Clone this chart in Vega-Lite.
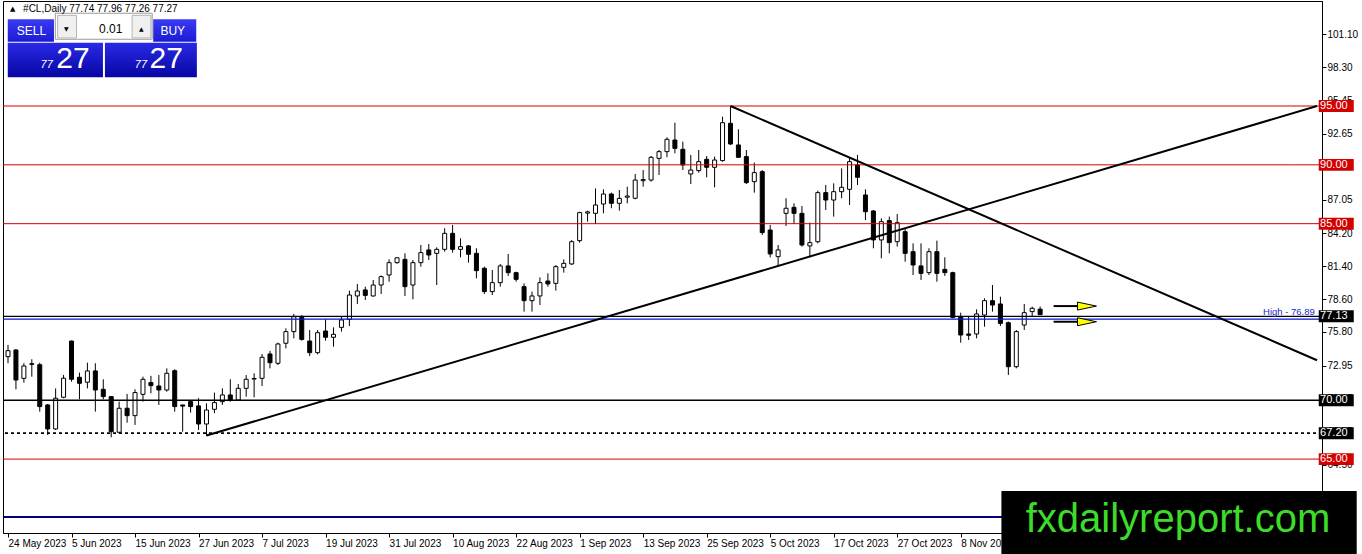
{
  "$schema": "https://vega.github.io/schema/vega-lite/v6.json",
  "width": 1319,
  "height": 532,
  "autosize": {"type": "none"},
  "padding": {"left": 3, "top": 1, "right": 40, "bottom": 21},
  "background": "white",
  "config": {
    "view": {"stroke": "black", "strokeWidth": 1},
    "font": "Liberation Sans",
    "axis": {"labelFont": "Liberation Sans", "labelFontSize": 10, "labelColor": "black", "domainColor": "black", "tickColor": "black", "grid": false}
  },
  "resolve": {"axis": {"x": "independent", "y": "independent"}},
  "datasets": {
    "candles": [
      {"i":0,"o":73.70,"h":74.70,"l":73.14,"c":74.21},
      {"i":1,"o":74.27,"h":74.33,"l":70.93,"c":71.72},
      {"i":2,"o":71.86,"h":73.14,"l":71.49,"c":72.91},
      {"i":3,"o":73.10,"h":73.48,"l":72.00,"c":73.05},
      {"i":4,"o":73.02,"h":73.19,"l":69.03,"c":69.46},
      {"i":5,"o":69.60,"h":69.68,"l":67.05,"c":67.56},
      {"i":6,"o":67.56,"h":71.00,"l":67.47,"c":70.17},
      {"i":7,"o":70.25,"h":72.15,"l":70.17,"c":71.87},
      {"i":8,"o":75.03,"h":75.06,"l":71.58,"c":71.78},
      {"i":9,"o":71.95,"h":72.35,"l":70.08,"c":71.44},
      {"i":10,"o":71.53,"h":73.19,"l":71.00,"c":72.49},
      {"i":11,"o":72.49,"h":73.14,"l":69.03,"c":70.87},
      {"i":12,"o":70.93,"h":71.78,"l":70.08,"c":70.31},
      {"i":13,"o":70.31,"h":70.36,"l":66.85,"c":67.33},
      {"i":14,"o":67.28,"h":69.88,"l":67.19,"c":69.32},
      {"i":15,"o":69.32,"h":70.53,"l":68.09,"c":68.69},
      {"i":16,"o":68.69,"h":70.93,"l":67.90,"c":70.65},
      {"i":17,"o":70.50,"h":72.00,"l":69.88,"c":71.78},
      {"i":18,"o":71.50,"h":72.07,"l":70.59,"c":71.24},
      {"i":19,"o":71.21,"h":72.15,"l":69.60,"c":70.87},
      {"i":20,"o":70.87,"h":72.71,"l":70.73,"c":72.29},
      {"i":21,"o":72.51,"h":72.63,"l":69.03,"c":69.46},
      {"i":22,"o":69.60,"h":69.60,"l":67.33,"c":69.50},
      {"i":23,"o":69.88,"h":69.97,"l":68.95,"c":69.46},
      {"i":24,"o":69.52,"h":70.17,"l":67.47,"c":67.98},
      {"i":25,"o":67.98,"h":69.74,"l":66.96,"c":69.17},
      {"i":26,"o":69.23,"h":70.65,"l":68.90,"c":69.80},
      {"i":27,"o":69.88,"h":71.01,"l":69.60,"c":70.45},
      {"i":28,"o":70.45,"h":71.78,"l":69.88,"c":70.02},
      {"i":29,"o":70.02,"h":71.38,"l":69.96,"c":71.01},
      {"i":30,"o":71.01,"h":72.14,"l":70.30,"c":71.78},
      {"i":31,"o":71.80,"h":72.29,"l":70.25,"c":71.85},
      {"i":32,"o":71.86,"h":73.93,"l":71.21,"c":73.65},
      {"i":33,"o":73.93,"h":74.19,"l":72.71,"c":73.19},
      {"i":34,"o":73.14,"h":74.89,"l":72.99,"c":74.78},
      {"i":35,"o":74.84,"h":76.11,"l":74.41,"c":75.83},
      {"i":36,"o":75.83,"h":77.33,"l":75.26,"c":77.10},
      {"i":37,"o":77.04,"h":77.24,"l":75.06,"c":75.17},
      {"i":38,"o":75.03,"h":75.97,"l":73.76,"c":74.04},
      {"i":39,"o":74.04,"h":75.97,"l":73.90,"c":75.74},
      {"i":40,"o":75.88,"h":76.87,"l":75.06,"c":75.35},
      {"i":41,"o":75.35,"h":76.19,"l":74.55,"c":75.60},
      {"i":42,"o":76.19,"h":77.10,"l":75.83,"c":76.82},
      {"i":43,"o":76.87,"h":79.31,"l":76.31,"c":78.94},
      {"i":44,"o":78.86,"h":79.88,"l":78.18,"c":79.28},
      {"i":45,"o":79.37,"h":79.65,"l":78.52,"c":78.91},
      {"i":46,"o":78.86,"h":80.22,"l":78.80,"c":79.79},
      {"i":47,"o":79.79,"h":80.60,"l":79.03,"c":80.50},
      {"i":48,"o":80.64,"h":81.97,"l":80.07,"c":81.69},
      {"i":49,"o":81.69,"h":82.14,"l":81.60,"c":82.10},
      {"i":50,"o":81.97,"h":82.48,"l":78.86,"c":79.65},
      {"i":51,"o":79.79,"h":81.91,"l":78.57,"c":81.69},
      {"i":52,"o":81.69,"h":83.19,"l":81.35,"c":82.54},
      {"i":53,"o":82.77,"h":83.28,"l":81.92,"c":82.34},
      {"i":54,"o":82.48,"h":82.99,"l":79.79,"c":82.82},
      {"i":55,"o":82.82,"h":84.61,"l":82.62,"c":84.18},
      {"i":56,"o":84.18,"h":84.89,"l":82.54,"c":82.82},
      {"i":57,"o":82.82,"h":83.76,"l":82.14,"c":83.05},
      {"i":58,"o":83.11,"h":83.19,"l":81.69,"c":82.40},
      {"i":59,"o":82.48,"h":82.91,"l":80.36,"c":81.01},
      {"i":60,"o":81.21,"h":81.35,"l":79.03,"c":79.23},
      {"i":61,"o":79.23,"h":81.07,"l":78.94,"c":79.99},
      {"i":62,"o":79.99,"h":81.58,"l":79.65,"c":81.41},
      {"i":63,"o":81.41,"h":82.43,"l":80.56,"c":80.84},
      {"i":64,"o":80.84,"h":80.92,"l":80.07,"c":80.27},
      {"i":65,"o":79.65,"h":79.93,"l":77.53,"c":78.46},
      {"i":66,"o":78.46,"h":79.23,"l":77.53,"c":78.86},
      {"i":67,"o":78.86,"h":80.44,"l":78.09,"c":79.99},
      {"i":68,"o":80.13,"h":80.78,"l":79.65,"c":79.88},
      {"i":69,"o":79.93,"h":81.49,"l":79.31,"c":81.35},
      {"i":70,"o":81.29,"h":81.97,"l":80.84,"c":81.63},
      {"i":71,"o":81.58,"h":83.61,"l":81.49,"c":83.47},
      {"i":72,"o":83.56,"h":86.02,"l":83.39,"c":85.94},
      {"i":73,"o":85.90,"h":86.11,"l":85.17,"c":86.00},
      {"i":74,"o":85.88,"h":88.00,"l":84.97,"c":86.59},
      {"i":75,"o":86.67,"h":87.92,"l":85.88,"c":87.52},
      {"i":76,"o":87.52,"h":87.64,"l":86.31,"c":86.73},
      {"i":77,"o":86.73,"h":87.86,"l":86.11,"c":87.15},
      {"i":78,"o":87.25,"h":88.15,"l":86.73,"c":87.35},
      {"i":79,"o":87.16,"h":89.22,"l":87.07,"c":88.71},
      {"i":80,"o":88.65,"h":89.56,"l":88.15,"c":88.75},
      {"i":81,"o":88.71,"h":90.75,"l":88.57,"c":90.64},
      {"i":82,"o":90.55,"h":91.26,"l":89.14,"c":91.12},
      {"i":83,"o":91.12,"h":92.34,"l":90.64,"c":92.17},
      {"i":84,"o":92.11,"h":93.58,"l":90.98,"c":91.40},
      {"i":85,"o":91.32,"h":91.97,"l":89.56,"c":89.99},
      {"i":86,"o":89.22,"h":90.84,"l":88.37,"c":89.56},
      {"i":87,"o":89.51,"h":91.26,"l":89.34,"c":90.27},
      {"i":88,"o":90.47,"h":90.75,"l":88.94,"c":89.79},
      {"i":89,"o":89.79,"h":90.70,"l":88.09,"c":90.41},
      {"i":90,"o":90.36,"h":94.09,"l":90.27,"c":93.58},
      {"i":91,"o":93.53,"h":95.00,"l":91.69,"c":91.77},
      {"i":92,"o":91.69,"h":93.02,"l":90.60,"c":90.64},
      {"i":93,"o":90.70,"h":91.26,"l":88.37,"c":88.49},
      {"i":94,"o":88.57,"h":90.19,"l":87.64,"c":89.34},
      {"i":95,"o":89.42,"h":89.56,"l":84.04,"c":84.24},
      {"i":96,"o":84.46,"h":84.89,"l":82.14,"c":82.43},
      {"i":97,"o":82.20,"h":83.19,"l":81.41,"c":82.77},
      {"i":98,"o":85.88,"h":87.16,"l":84.81,"c":86.31},
      {"i":99,"o":86.39,"h":86.73,"l":84.98,"c":85.88},
      {"i":100,"o":85.88,"h":86.50,"l":83.05,"c":83.19},
      {"i":101,"o":83.11,"h":85.09,"l":82.20,"c":83.39},
      {"i":102,"o":83.47,"h":87.81,"l":83.33,"c":87.64},
      {"i":103,"o":87.64,"h":88.29,"l":86.16,"c":87.01},
      {"i":104,"o":87.01,"h":88.43,"l":85.60,"c":87.72},
      {"i":105,"o":87.72,"h":89.70,"l":87.16,"c":88.09},
      {"i":106,"o":87.92,"h":90.55,"l":86.59,"c":90.27},
      {"i":107,"o":89.99,"h":90.84,"l":88.29,"c":88.94},
      {"i":108,"o":87.44,"h":87.92,"l":85.31,"c":86.02},
      {"i":109,"o":86.08,"h":86.16,"l":82.91,"c":83.62},
      {"i":110,"o":83.62,"h":85.46,"l":82.06,"c":85.17},
      {"i":111,"o":85.26,"h":85.60,"l":82.48,"c":83.39},
      {"i":112,"o":83.47,"h":85.82,"l":83.05,"c":85.09},
      {"i":113,"o":84.32,"h":84.61,"l":81.77,"c":82.48},
      {"i":114,"o":82.62,"h":83.33,"l":80.64,"c":81.49},
      {"i":115,"o":81.41,"h":83.33,"l":80.22,"c":80.78},
      {"i":116,"o":80.84,"h":82.91,"l":80.64,"c":82.62},
      {"i":117,"o":82.62,"h":83.56,"l":80.07,"c":80.78},
      {"i":118,"o":81.12,"h":82.14,"l":80.56,"c":80.84},
      {"i":119,"o":80.84,"h":80.92,"l":76.96,"c":77.04},
      {"i":120,"o":77.10,"h":77.44,"l":74.89,"c":75.54},
      {"i":121,"o":75.63,"h":77.10,"l":75.12,"c":75.52},
      {"i":122,"o":75.63,"h":77.72,"l":75.26,"c":77.33},
      {"i":123,"o":77.24,"h":78.66,"l":76.25,"c":78.46},
      {"i":124,"o":78.46,"h":79.79,"l":77.53,"c":78.09},
      {"i":125,"o":78.18,"h":78.80,"l":76.31,"c":76.53},
      {"i":126,"o":76.59,"h":76.68,"l":72.15,"c":72.85},
      {"i":127,"o":72.85,"h":75.97,"l":72.71,"c":75.83},
      {"i":128,"o":76.39,"h":78.18,"l":75.97,"c":77.44},
      {"i":129,"o":77.53,"h":77.95,"l":77.10,"c":77.81},
      {"i":130,"o":77.74,"h":77.96,"l":77.26,"c":77.27}
    ],
    "levels": [
      {"price":95.00,"kind":"resistance"},
      {"price":90.00,"kind":"resistance"},
      {"price":85.00,"kind":"resistance"},
      {"price":77.13,"kind":"bid"},
      {"price":76.89,"kind":"high"},
      {"price":70.00,"kind":"support"},
      {"price":67.20,"kind":"low"},
      {"price":65.00,"kind":"resistance"},
      {"price":60.08,"kind":"base"}
    ],
    "trend": [
      {"line":"rise","i":25,"price":67.0},
      {"line":"rise","i":164.875,"price":95.0},
      {"line":"fall","i":91,"price":95.0},
      {"line":"fall","i":164.875,"price":73.4}
    ],
    "arrows": [
      {"i":131.7,"i2":134.8,"tip":135.9,"price":78.0},
      {"i":131.7,"i2":134.8,"tip":135.9,"price":76.67}
    ],
    "panel": [
      {"part":"button","i":-0.03,"i2":5.79,"price":102.37,"price2":100.46},
      {"part":"button","i":18.29,"i2":23.71,"price":102.37,"price2":100.46},
      {"part":"quote","i":-0.03,"i2":11.96,"price":100.38,"price2":97.44},
      {"part":"quote","i":12.21,"i2":23.79,"price":100.38,"price2":97.44},
      {"part":"field","i":5.96,"i2":18.16,"price":102.88,"price2":100.67},
      {"part":"knob","i":6.25,"i2":8.63,"price":102.7,"price2":100.78},
      {"part":"knob","i":15.63,"i2":18.0,"price":102.7,"price2":100.78},
      {"part":"stamp","i":125.125,"i2":169.875,"price":62.29,"price2":56.94}
    ],
    "notes": [
      {"role":"btn","text":"SELL","i":2.96,"price":101.41},
      {"role":"btn","text":"BUY","i":20.75,"price":101.41},
      {"role":"tiny","text":"▼","i":7.33,"price":101.52},
      {"role":"tiny","text":"▲","i":16.79,"price":101.52},
      {"role":"spin","text":"0.01","i":14.41,"price":101.52},
      {"role":"pip","text":"77","i":4.875,"price":98.27},
      {"role":"pip","text":"77","i":16.75,"price":98.27},
      {"role":"big","text":"27","i":8.19,"price":98.19},
      {"role":"big","text":"27","i":19.94,"price":98.19},
      {"role":"tri","text":"▲","i":0.6,"price":103.24},
      {"role":"head","text":"#CL,Daily  77.74 77.96 77.26 77.27","i":1.9,"price":103.24},
      {"role":"high","text":"High - 76.89","i":164.6,"price":76.89},
      {"role":"stamp","text":"fxdailyreport.com","i":147.37,"price":58.83}
    ]
  },
  "layer": [
    {
      "data": {"name": "candles"},
      "mark": {"type": "rule", "color": "black", "strokeWidth": 1},
      "encoding": {
        "x": {
          "field": "i", "type": "quantitative",
          "scale": {"domain": [0, 164.875], "nice": false, "zero": false},
          "axis": {
            "title": null,
            "values": [0, 8, 16, 24, 32, 40, 48, 56, 64, 72, 80, 88, 96, 104, 112, 120],
            "labelExpr": "['24 May 2023','5 Jun 2023','15 Jun 2023','27 Jun 2023','7 Jul 2023','19 Jul 2023','31 Jul 2023','10 Aug 2023','22 Aug 2023','1 Sep 2023','13 Sep 2023','25 Sep 2023','5 Oct 2023','17 Oct 2023','27 Oct 2023','8 Nov 2023'][round(datum.value / 8)]",
            "labelAlign": "left", "labelBaseline": "top", "labelPadding": 1,
            "tickSize": 4, "labelFlush": false, "labelOverlap": false
          }
        },
        "y": {
          "field": "l", "type": "quantitative",
          "scale": {"domain": [58.72, 103.92], "nice": false, "zero": false},
          "axis": {
            "title": null, "orient": "right",
            "values": [101.10, 98.30, 95.45, 92.65, 89.85, 87.05, 84.20, 81.40, 78.60, 75.80, 72.95, 70.15, 67.35, 64.50, 61.70],
            "format": ".2f", "labelAlign": "left", "labelBaseline": "middle",
            "labelPadding": 1, "tickSize": 4, "labelFlush": false, "labelOverlap": false
          }
        },
        "y2": {"field": "h"}
      }
    },
    {
      "data": {"name": "candles"},
      "mark": {"type": "bar", "size": 4, "stroke": "black", "strokeWidth": 1},
      "encoding": {
        "x": {"field": "i", "type": "quantitative", "scale": {"domain": [0, 164.875], "nice": false, "zero": false}, "axis": null},
        "y": {"field": "o", "type": "quantitative", "scale": {"domain": [58.72, 103.92], "nice": false, "zero": false}, "axis": null},
        "y2": {"field": "c"},
        "fill": {"condition": {"test": "datum.c >= datum.o", "value": "white"}, "value": "black"}
      }
    },
    {
      "data": {"name": "levels"},
      "mark": {"type": "rule"},
      "encoding": {
        "y": {"field": "price", "type": "quantitative", "scale": {"domain": [58.72, 103.92], "nice": false, "zero": false}, "axis": null},
        "color": {"field": "kind", "type": "nominal", "legend": null,
          "scale": {"domain": ["resistance", "bid", "high", "support", "low", "base"], "range": ["#d40000", "#000000", "#0a14d2", "#000000", "#000000", "#00007a"]}},
        "strokeWidth": {"field": "kind", "type": "nominal", "legend": null,
          "scale": {"domain": ["resistance", "bid", "high", "support", "low", "base"], "range": [1, 2, 2, 2, 1, 1]}},
        "strokeDash": {"field": "kind", "type": "nominal", "legend": null,
          "scale": {"domain": ["resistance", "bid", "high", "support", "low", "base"], "range": [[1, 0], [1, 0], [1, 0], [1, 0], [3, 3], [1, 0]]}}
      }
    },
    {
      "data": {"name": "trend"},
      "mark": {"type": "line", "color": "black", "strokeWidth": 2},
      "encoding": {
        "x": {"field": "i", "type": "quantitative", "scale": {"domain": [0, 164.875], "nice": false, "zero": false}, "axis": null},
        "y": {"field": "price", "type": "quantitative", "scale": {"domain": [58.72, 103.92], "nice": false, "zero": false}, "axis": null},
        "detail": {"field": "line", "type": "nominal"}
      }
    },
    {
      "data": {"name": "arrows"},
      "mark": {"type": "rule", "color": "black", "strokeWidth": 2},
      "encoding": {
        "x": {"field": "i", "type": "quantitative", "scale": {"domain": [0, 164.875], "nice": false, "zero": false}, "axis": null},
        "x2": {"field": "i2"},
        "y": {"field": "price", "type": "quantitative", "scale": {"domain": [58.72, 103.92], "nice": false, "zero": false}, "axis": null}
      }
    },
    {
      "data": {"name": "arrows"},
      "mark": {"type": "point", "shape": "M -1 -0.42 L 1 0 L -1 0.42 Z", "size": 361, "filled": true, "fill": "#ffff00", "stroke": "black", "strokeWidth": 1, "opacity": 1},
      "encoding": {
        "x": {"field": "tip", "type": "quantitative", "scale": {"domain": [0, 164.875], "nice": false, "zero": false}, "axis": null},
        "y": {"field": "price", "type": "quantitative", "scale": {"domain": [58.72, 103.92], "nice": false, "zero": false}, "axis": null}
      }
    },
    {
      "data": {"name": "levels"},
      "transform": [{"filter": "datum.kind != 'high' && datum.kind != 'base'"}],
      "mark": {"type": "point", "shape": "M -1 -0.34 L 1 -0.34 L 1 0.34 L -1 0.34 Z", "size": 1225, "filled": true, "opacity": 1, "clip": false},
      "encoding": {
        "x": {"datum": 167.3, "type": "quantitative", "scale": {"domain": [0, 164.875], "nice": false, "zero": false}, "axis": null},
        "y": {"field": "price", "type": "quantitative", "scale": {"domain": [58.72, 103.92], "nice": false, "zero": false}, "axis": null},
        "color": {"field": "kind", "type": "nominal", "legend": null}
      }
    },
    {
      "data": {"name": "levels"},
      "transform": [{"filter": "datum.kind != 'high' && datum.kind != 'base'"}],
      "mark": {"type": "text", "color": "white", "fontSize": 11, "align": "center", "baseline": "middle", "clip": false},
      "encoding": {
        "x": {"datum": 167.0, "type": "quantitative", "scale": {"domain": [0, 164.875], "nice": false, "zero": false}, "axis": null},
        "y": {"field": "price", "type": "quantitative", "scale": {"domain": [58.72, 103.92], "nice": false, "zero": false}, "axis": null},
        "text": {"field": "price", "type": "quantitative", "format": ".2f"}
      }
    },
    {
      "data": {"name": "panel"},
      "transform": [{"filter": "datum.part == 'button'"}],
      "mark": {"type": "rect", "fill": {"gradient": "linear", "x1": 0, "y1": 0, "x2": 0, "y2": 1, "stops": [{"offset": 0, "color": "#3a3af2"}, {"offset": 1, "color": "#1c1cd6"}]}},
      "encoding": {
        "x": {"field": "i", "type": "quantitative", "scale": {"domain": [0, 164.875], "nice": false, "zero": false}, "axis": null},
        "x2": {"field": "i2"},
        "y": {"field": "price", "type": "quantitative", "scale": {"domain": [58.72, 103.92], "nice": false, "zero": false}, "axis": null},
        "y2": {"field": "price2"}
      }
    },
    {
      "data": {"name": "panel"},
      "transform": [{"filter": "datum.part == 'quote'"}],
      "mark": {"type": "rect", "fill": {"gradient": "linear", "x1": 0, "y1": 0, "x2": 0, "y2": 1, "stops": [{"offset": 0, "color": "#2a2ae6"}, {"offset": 1, "color": "#0606a4"}]}},
      "encoding": {
        "x": {"field": "i", "type": "quantitative", "scale": {"domain": [0, 164.875], "nice": false, "zero": false}, "axis": null},
        "x2": {"field": "i2"},
        "y": {"field": "price", "type": "quantitative", "scale": {"domain": [58.72, 103.92], "nice": false, "zero": false}, "axis": null},
        "y2": {"field": "price2"}
      }
    },
    {
      "data": {"name": "panel"},
      "transform": [{"filter": "datum.part == 'field'"}],
      "mark": {"type": "rect", "fill": "white", "stroke": "#9a9a9a", "strokeWidth": 1},
      "encoding": {
        "x": {"field": "i", "type": "quantitative", "scale": {"domain": [0, 164.875], "nice": false, "zero": false}, "axis": null},
        "x2": {"field": "i2"},
        "y": {"field": "price", "type": "quantitative", "scale": {"domain": [58.72, 103.92], "nice": false, "zero": false}, "axis": null},
        "y2": {"field": "price2"}
      }
    },
    {
      "data": {"name": "panel"},
      "transform": [{"filter": "datum.part == 'knob'"}],
      "mark": {"type": "rect", "fill": "#f0f0f0", "stroke": "#b4b4b4", "strokeWidth": 1},
      "encoding": {
        "x": {"field": "i", "type": "quantitative", "scale": {"domain": [0, 164.875], "nice": false, "zero": false}, "axis": null},
        "x2": {"field": "i2"},
        "y": {"field": "price", "type": "quantitative", "scale": {"domain": [58.72, 103.92], "nice": false, "zero": false}, "axis": null},
        "y2": {"field": "price2"}
      }
    },
    {
      "data": {"name": "notes"},
      "transform": [{"filter": "datum.role == 'btn'"}],
      "mark": {"type": "text", "color": "white", "fontSize": 12, "align": "center", "baseline": "middle"},
      "encoding": {
        "x": {"field": "i", "type": "quantitative", "scale": {"domain": [0, 164.875], "nice": false, "zero": false}, "axis": null},
        "y": {"field": "price", "type": "quantitative", "scale": {"domain": [58.72, 103.92], "nice": false, "zero": false}, "axis": null},
        "text": {"field": "text"}
      }
    },
    {
      "data": {"name": "notes"},
      "transform": [{"filter": "datum.role == 'tiny'"}],
      "mark": {"type": "text", "color": "black", "fontSize": 6, "align": "center", "baseline": "middle", "font": "DejaVu Sans"},
      "encoding": {
        "x": {"field": "i", "type": "quantitative", "scale": {"domain": [0, 164.875], "nice": false, "zero": false}, "axis": null},
        "y": {"field": "price", "type": "quantitative", "scale": {"domain": [58.72, 103.92], "nice": false, "zero": false}, "axis": null},
        "text": {"field": "text"}
      }
    },
    {
      "data": {"name": "notes"},
      "transform": [{"filter": "datum.role == 'spin'"}],
      "mark": {"type": "text", "color": "black", "fontSize": 12, "align": "right", "baseline": "middle"},
      "encoding": {
        "x": {"field": "i", "type": "quantitative", "scale": {"domain": [0, 164.875], "nice": false, "zero": false}, "axis": null},
        "y": {"field": "price", "type": "quantitative", "scale": {"domain": [58.72, 103.92], "nice": false, "zero": false}, "axis": null},
        "text": {"field": "text"}
      }
    },
    {
      "data": {"name": "notes"},
      "transform": [{"filter": "datum.role == 'pip'"}],
      "mark": {"type": "text", "color": "white", "fontSize": 11, "fontStyle": "italic", "align": "center", "baseline": "alphabetic"},
      "encoding": {
        "x": {"field": "i", "type": "quantitative", "scale": {"domain": [0, 164.875], "nice": false, "zero": false}, "axis": null},
        "y": {"field": "price", "type": "quantitative", "scale": {"domain": [58.72, 103.92], "nice": false, "zero": false}, "axis": null},
        "text": {"field": "text"}
      }
    },
    {
      "data": {"name": "notes"},
      "transform": [{"filter": "datum.role == 'big'"}],
      "mark": {"type": "text", "color": "white", "fontSize": 30, "align": "center", "baseline": "alphabetic"},
      "encoding": {
        "x": {"field": "i", "type": "quantitative", "scale": {"domain": [0, 164.875], "nice": false, "zero": false}, "axis": null},
        "y": {"field": "price", "type": "quantitative", "scale": {"domain": [58.72, 103.92], "nice": false, "zero": false}, "axis": null},
        "text": {"field": "text"}
      }
    },
    {
      "data": {"name": "notes"},
      "transform": [{"filter": "datum.role == 'tri'"}],
      "mark": {"type": "text", "color": "black", "fontSize": 7, "align": "center", "baseline": "middle", "font": "DejaVu Sans"},
      "encoding": {
        "x": {"field": "i", "type": "quantitative", "scale": {"domain": [0, 164.875], "nice": false, "zero": false}, "axis": null},
        "y": {"field": "price", "type": "quantitative", "scale": {"domain": [58.72, 103.92], "nice": false, "zero": false}, "axis": null},
        "text": {"field": "text"}
      }
    },
    {
      "data": {"name": "notes"},
      "transform": [{"filter": "datum.role == 'head'"}],
      "mark": {"type": "text", "color": "black", "fontSize": 10, "align": "left", "baseline": "middle"},
      "encoding": {
        "x": {"field": "i", "type": "quantitative", "scale": {"domain": [0, 164.875], "nice": false, "zero": false}, "axis": null},
        "y": {"field": "price", "type": "quantitative", "scale": {"domain": [58.72, 103.92], "nice": false, "zero": false}, "axis": null},
        "text": {"field": "text"}
      }
    },
    {
      "data": {"name": "notes"},
      "transform": [{"filter": "datum.role == 'high'"}],
      "mark": {"type": "text", "color": "#1c28c8", "fontSize": 9.5, "align": "right", "baseline": "alphabetic", "dy": -4},
      "encoding": {
        "x": {"field": "i", "type": "quantitative", "scale": {"domain": [0, 164.875], "nice": false, "zero": false}, "axis": null},
        "y": {"field": "price", "type": "quantitative", "scale": {"domain": [58.72, 103.92], "nice": false, "zero": false}, "axis": null},
        "text": {"field": "text"}
      }
    },
    {
      "data": {"name": "panel"},
      "transform": [{"filter": "datum.part == 'stamp'"}],
      "mark": {"type": "rect", "fill": "black", "clip": false},
      "encoding": {
        "x": {"field": "i", "type": "quantitative", "scale": {"domain": [0, 164.875], "nice": false, "zero": false}, "axis": null},
        "x2": {"field": "i2"},
        "y": {"field": "price", "type": "quantitative", "scale": {"domain": [58.72, 103.92], "nice": false, "zero": false}, "axis": null},
        "y2": {"field": "price2"}
      }
    },
    {
      "data": {"name": "notes"},
      "transform": [{"filter": "datum.role == 'stamp'"}],
      "mark": {"type": "text", "color": "#3ddc2a", "fontSize": 40, "align": "center", "baseline": "alphabetic", "clip": false},
      "encoding": {
        "x": {"field": "i", "type": "quantitative", "scale": {"domain": [0, 164.875], "nice": false, "zero": false}, "axis": null},
        "y": {"field": "price", "type": "quantitative", "scale": {"domain": [58.72, 103.92], "nice": false, "zero": false}, "axis": null},
        "text": {"field": "text"}
      }
    }
  ]
}
